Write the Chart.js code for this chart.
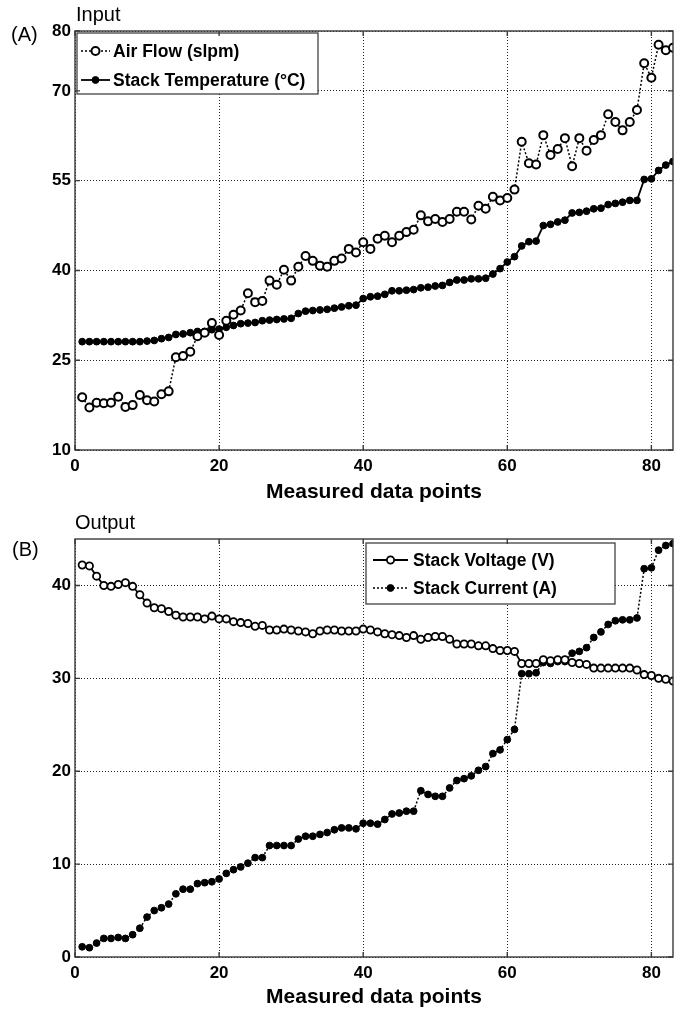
<!DOCTYPE html>
<html>
<head>
<meta charset="utf-8">
<script src="https://cdn.jsdelivr.net/npm/chart.js@4.4.0/dist/chart.umd.min.js"></script>
<style>
  body { margin: 0; width: 687px; height: 1015px; background: #fff; position: relative; overflow: hidden;
         font-family: "Liberation Sans", Arial, sans-serif; }
  .panel { position: absolute; left: 0; width: 687px; }
  .lbl { position: absolute; font-size: 20px; line-height: 20px; color: #000; white-space: nowrap; z-index: 2; }
</style>
</head>
<body>
<div class="lbl" style="left:76px;top:4px">Input</div>
<div class="lbl" style="left:11px;top:24px">(A)</div>
<div class="lbl" style="left:75px;top:512px">Output</div>
<div class="lbl" style="left:12px;top:539px">(B)</div>
<div class="panel" style="top:0;height:505px"><canvas id="inputChart" width="687" height="505"></canvas></div>
<div class="panel" style="top:505px;height:510px"><canvas id="outputChart" width="687" height="510"></canvas></div>

<script>
// tick positions
const xTicks = [0, 20, 40, 60, 80];
const inputTicks = [10, 25, 40, 55, 70, 80];
const outputTicks = [0, 10, 20, 30, 40];

// panel (A) - input, measured data points 1..83
const airFlow = [
  18.8, 17.1, 17.9, 17.8, 17.9, 18.9, 17.2, 17.5, 19.2, 18.3,
  18.1, 19.3, 19.8, 25.5, 25.7, 26.4, 29.0, 29.6, 31.2, 29.2,
  31.6, 32.6, 33.3, 36.2, 34.7, 34.9, 38.3, 37.6, 40.1, 38.3,
  40.6, 42.4, 41.6, 40.8, 40.6, 41.6, 42.0, 43.6, 43.0, 44.7,
  43.6, 45.3, 45.8, 44.7, 45.8, 46.4, 46.8, 49.2, 48.2, 48.6,
  48.1, 48.6, 49.8, 49.8, 48.5, 50.8, 50.3, 52.3, 51.7, 52.1,
  53.5, 61.5, 57.9, 57.7, 62.6, 59.3, 60.3, 62.1, 57.4, 62.1,
  60.0, 61.8, 62.6, 66.1, 64.8, 63.4, 64.8, 66.8, 74.6, 72.2,
  77.7, 76.8, 77.2
];
const stackTemp = [
  28.1, 28.1, 28.1, 28.1, 28.1, 28.1, 28.1, 28.1, 28.1, 28.2,
  28.3, 28.6, 28.8, 29.3, 29.4, 29.6, 29.8, 29.8, 30.1, 30.2,
  30.5, 30.8, 31.1, 31.2, 31.3, 31.6, 31.7, 31.8, 31.9, 32.0,
  32.8, 33.2, 33.3, 33.4, 33.5, 33.7, 33.9, 34.1, 34.2, 35.3,
  35.6, 35.7, 36.0, 36.6, 36.6, 36.7, 36.8, 37.1, 37.2, 37.4,
  37.5, 38.0, 38.4, 38.4, 38.6, 38.6, 38.7, 39.4, 40.3, 41.4,
  42.3, 44.1, 44.8, 44.9, 47.5, 47.7, 48.1, 48.4, 49.6, 49.7,
  49.9, 50.3, 50.4, 51.0, 51.2, 51.4, 51.7, 51.7, 55.2, 55.3,
  56.7, 57.6, 58.2
];

// panel (B) - output
const stackVoltage = [
  42.2, 42.1, 41.0, 40.0, 39.9, 40.1, 40.3, 39.9, 39.0, 38.1,
  37.6, 37.5, 37.2, 36.8, 36.6, 36.6, 36.6, 36.4, 36.7, 36.4,
  36.4, 36.1, 36.0, 35.9, 35.6, 35.7, 35.2, 35.2, 35.3, 35.2,
  35.1, 35.0, 34.8, 35.1, 35.2, 35.2, 35.1, 35.1, 35.1, 35.3,
  35.2, 35.0, 34.8, 34.7, 34.6, 34.4, 34.6, 34.2, 34.4, 34.5,
  34.5, 34.2, 33.7, 33.7, 33.7, 33.5, 33.5, 33.2, 33.0, 33.0,
  32.9, 31.6, 31.6, 31.6, 32.0, 31.9, 32.0, 32.0, 31.7, 31.6,
  31.5, 31.1, 31.1, 31.1, 31.1, 31.1, 31.1, 30.9, 30.4, 30.3,
  30.0, 29.9, 29.7
];
const stackCurrent = [
  1.1, 1.0, 1.5, 2.0, 2.0, 2.1, 2.0, 2.4, 3.1, 4.3,
  5.0, 5.3, 5.7, 6.8, 7.3, 7.3, 7.9, 8.0, 8.1, 8.4,
  9.0, 9.4, 9.7, 10.1, 10.7, 10.7, 12.0, 12.0, 12.0, 12.0,
  12.7, 13.0, 13.0, 13.2, 13.4, 13.7, 13.9, 13.9, 13.8, 14.4,
  14.4, 14.3, 14.8, 15.4, 15.5, 15.7, 15.7, 17.9, 17.5, 17.3,
  17.3, 18.2, 19.0, 19.2, 19.5, 20.1, 20.5, 21.9, 22.3, 23.4,
  24.5, 30.5, 30.5, 30.6, 31.7, 31.6, 31.8, 31.8, 32.7, 32.9,
  33.3, 34.4, 35.0, 35.8, 36.2, 36.3, 36.3, 36.5, 41.8, 41.9,
  43.8, 44.3, 44.5
];

const FONT = '"Liberation Sans", Arial, sans-serif';

// values -> {x, y}, x is the measured data point number (1-based)
const toPoints = arr => arr.map((v, i) => ({ x: i + 1, y: v }));

// legend in a box inside the plot, MATLAB style (line sample + marker + text)
const boxLegend = {
  id: 'boxLegend',
  afterDatasetsDraw(chart, args, opts) {
    const ctx = chart.ctx;
    ctx.save();
    ctx.fillStyle = '#fff';
    ctx.fillRect(opts.left, opts.top, opts.width, opts.height);
    ctx.strokeStyle = '#333';
    ctx.lineWidth = 1.2;
    ctx.strokeRect(opts.left, opts.top, opts.width, opts.height);
    chart.data.datasets.forEach((ds, i) => {
      const y = opts.rows[i];
      ctx.setLineDash(ds.borderDash || []);
      ctx.strokeStyle = '#000';
      ctx.lineWidth = ds.borderWidth;
      ctx.beginPath();
      ctx.moveTo(opts.x0, y);
      ctx.lineTo(opts.x1, y);
      ctx.stroke();
      ctx.setLineDash([]);
      ctx.beginPath();
      ctx.arc((opts.x0 + opts.x1) / 2, y, ds.pointRadius, 0, Math.PI * 2);
      ctx.fillStyle = ds.pointBackgroundColor;
      ctx.fill();
      ctx.lineWidth = ds.pointBorderWidth;
      ctx.stroke();
      ctx.fillStyle = '#000';
      ctx.font = 'bold 17.5px ' + FONT;
      ctx.textBaseline = 'middle';
      ctx.fillText(ds.label, opts.textX, y + 1);
    });
    ctx.restore();
  }
};

// axes box with inward tick marks
const axesBox = {
  id: 'axesBox',
  afterDraw(chart) {
    const { ctx, chartArea: a, scales } = chart;
    ctx.save();
    ctx.strokeStyle = '#3a3a3a';
    ctx.lineWidth = 1.4;
    ctx.strokeRect(a.left, a.top, a.right - a.left, a.bottom - a.top);
    ctx.beginPath();
    scales.x.ticks.forEach(t => {
      const px = scales.x.getPixelForValue(t.value);
      ctx.moveTo(px, a.bottom); ctx.lineTo(px, a.bottom - 5);
      ctx.moveTo(px, a.top); ctx.lineTo(px, a.top + 5);
    });
    scales.y.ticks.forEach(t => {
      const py = scales.y.getPixelForValue(t.value);
      ctx.moveTo(a.left, py); ctx.lineTo(a.left + 5, py);
      ctx.moveTo(a.right, py); ctx.lineTo(a.right - 5, py);
    });
    ctx.stroke();
    ctx.restore();
  }
};

function makeChart(canvasId, datasets, yMin, yMax, yTicks, setup) {
  return new Chart(document.getElementById(canvasId), {
    type: 'line',
    data: { datasets },
    plugins: [boxLegend, axesBox],
    options: {
      responsive: false,
      animation: false,
      layout: { padding: { left: 0, right: 14, top: setup.top, bottom: 0 } },
      plugins: {
        legend: { display: false },
        tooltip: { enabled: false },
        boxLegend: setup.legend
      },
      scales: {
        x: {
          type: 'linear', min: 0, max: 83,
          afterBuildTicks: s => { s.ticks = xTicks.map(v => ({ value: v })); },
          afterFit: s => { s.height = setup.xHeight; },
          grid: { color: '#222', lineWidth: 1, drawTicks: false },
          border: { display: false, dash: [1, 2] },
          ticks: { padding: 6, color: '#000', maxRotation: 0, font: { family: FONT, size: 17, weight: 'bold' } },
          title: {
            display: true, text: 'Measured data points', color: '#000',
            font: { family: FONT, size: 21, weight: 'bold' },
            padding: { top: 0, bottom: setup.titlePad }
          }
        },
        y: {
          min: yMin, max: yMax,
          afterBuildTicks: s => { s.ticks = yTicks.map(v => ({ value: v })); },
          afterFit: s => { s.width = 75; },
          grid: { color: '#222', lineWidth: 1, drawTicks: false },
          border: { display: false, dash: [1, 2] },
          ticks: { padding: 4, color: '#000', font: { family: FONT, size: 17, weight: 'bold' } }
        }
      }
    }
  });
}

makeChart('inputChart', [
  {
    label: 'Air Flow (slpm)', data: toPoints(airFlow),
    borderColor: '#000', borderWidth: 1.5, borderDash: [2, 2],
    pointRadius: 4, pointBorderWidth: 2, pointBackgroundColor: '#fff', pointBorderColor: '#000'
  },
  {
    label: 'Stack Temperature (°C)', data: toPoints(stackTemp),
    borderColor: '#000', borderWidth: 1.8,
    pointRadius: 3.4, pointBorderWidth: 1, pointBackgroundColor: '#000', pointBorderColor: '#000'
  }
], 10, 80, inputTicks, {
  top: 31, xHeight: 55, titlePad: 0,
  legend: { left: 77, top: 33, width: 241, height: 61, x0: 81, x1: 110, textX: 113, rows: [51, 80] }
});

makeChart('outputChart', [
  {
    label: 'Stack Voltage (V)', data: toPoints(stackVoltage),
    borderColor: '#000', borderWidth: 1.8,
    pointRadius: 3.6, pointBorderWidth: 1.8, pointBackgroundColor: '#fff', pointBorderColor: '#000'
  },
  {
    label: 'Stack Current (A)', data: toPoints(stackCurrent),
    borderColor: '#000', borderWidth: 1.5, borderDash: [2, 2],
    pointRadius: 3.4, pointBorderWidth: 1, pointBackgroundColor: '#000', pointBorderColor: '#000'
  }
], 0, 45, outputTicks, {
  top: 34, xHeight: 58, titlePad: 5,
  legend: { left: 366, top: 38, width: 249, height: 61, x0: 373, x1: 408, textX: 413, rows: [55, 83] }
});
</script>
</body>
</html>
